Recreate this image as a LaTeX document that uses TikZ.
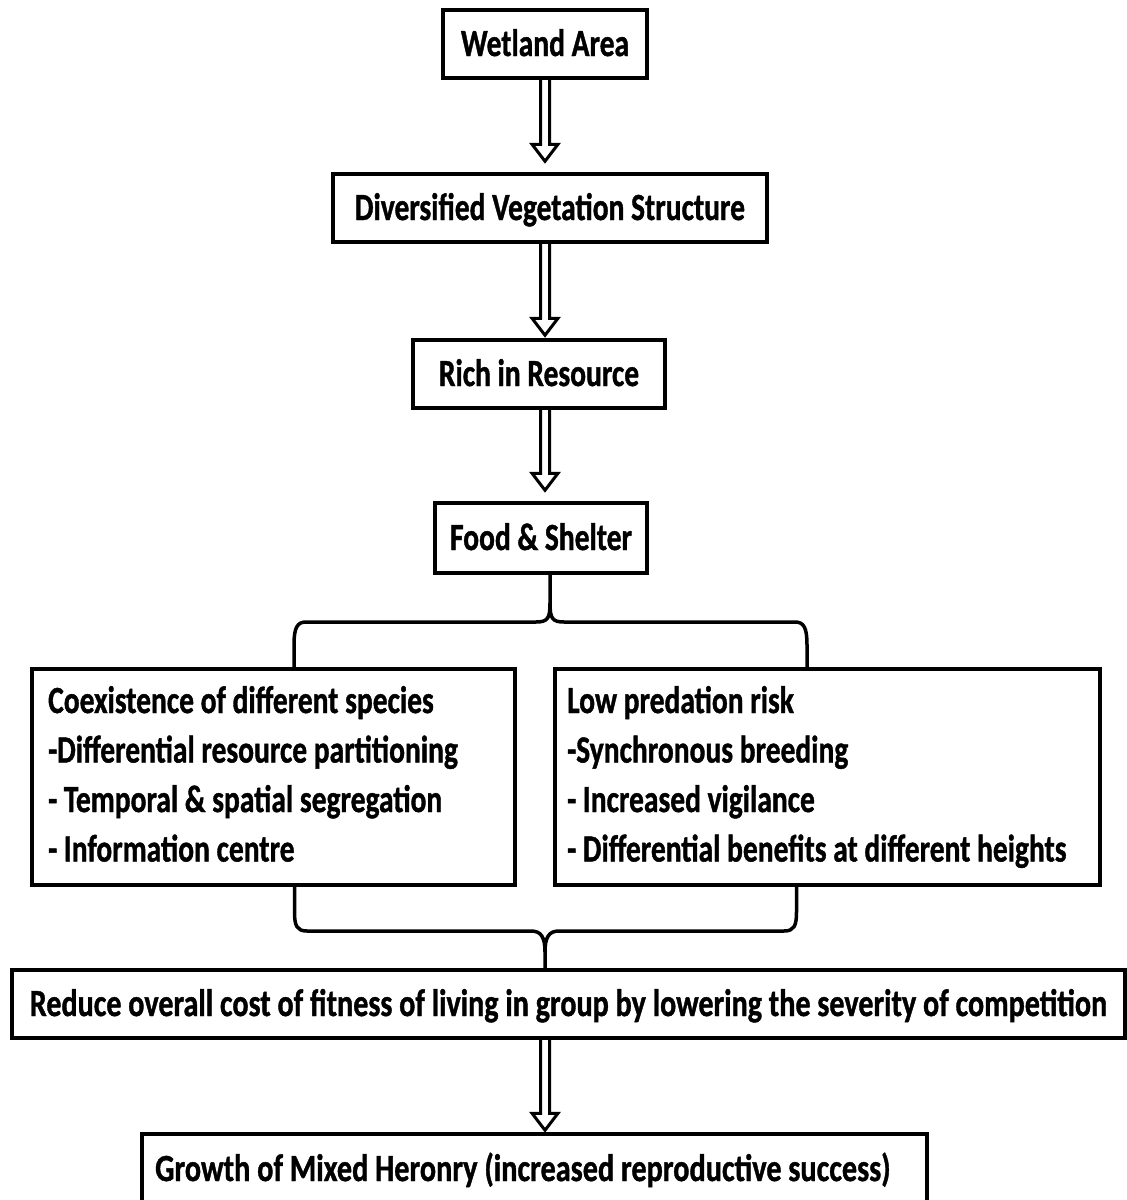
\documentclass[tikz,border=0pt]{standalone}
\usepackage{fontspec}
\setmainfont{Carlito}[BoldFeatures={FakeBold=1.2}]
\usetikzlibrary{calc}
\newcommand{\tx}[1]{\scalebox{1}[1.3]{#1}}
\newcommand{\txw}[2]{\scalebox{#1}[1.3]{#2}}
\begin{document}
\begin{tikzpicture}[x=1pt,y=-1pt,
  box/.style={draw, line width=3.5pt, rectangle, inner sep=0pt,
    font=\fontsize{29.5}{30}\selectfont\bfseries, text height=24pt, text depth=0pt},
  lbl/.style={font=\fontsize{29.5}{30}\selectfont\bfseries, inner sep=0pt, anchor=base west},
  brace/.style={line width=3.5pt, line join=round},
  blockarr/.style={line width=3pt, line join=miter,
    to path={let \p1=(\tikztostart), \p2=(\tikztotarget) in
      (\x1-4.5pt,\y1) -- (\x1-4.5pt,\y2+17pt) -- (\x1-13pt,\y2+17pt) -- (\x1,\y2)
      -- (\x1+13pt,\y2+17pt) -- (\x1+4.5pt,\y2+17pt) -- (\x1+4.5pt,\y1)}}
]
\useasboundingbox[fill=white] (0,0) rectangle (1127,1200);

% boxes
\node[box, minimum width=204pt, minimum height=68pt] (wa) at (545,44) {\tx{Wetland Area}};
\node[box, minimum width=434pt, minimum height=68pt] (dv) at (550,208) {\tx{Diversified Vegetation Structure}};
\node[box, minimum width=252pt, minimum height=68pt] (rr) at (539,374) {\tx{Rich in Resource}};
\node[box, minimum width=212pt, minimum height=70pt] (fs) at (541,538) {\tx{Food \& Shelter}};
\node[box, minimum width=483pt, minimum height=216pt] (lb) at (273.5,777) {};
\node[box, minimum width=545pt, minimum height=216pt] (rb) at (827.5,777) {};
\node[box, minimum width=1113pt, minimum height=68pt] (rc) at (568.5,1004) {\txw{1.02}{Reduce overall cost of fitness of living in group by lowering the severity of competition}};
\node[box, minimum width=785pt, minimum height=70pt] (gm) at (534.5,1169) {};

% texts in the two middle boxes and the last box
\node[lbl] (l1) at (48,713) {\tx{Coexistence of different species}};
\node[lbl] (l2) at (48,762.5) {\tx{-Differential resource partitioning}};
\node[lbl] (l3) at (48,812) {\tx{- Temporal \& spatial segregation}};
\node[lbl] (l4) at (48,861.5) {\tx{- Information centre}};
\node[lbl] (r1) at (567,713) {\tx{Low predation risk}};
\node[lbl] (r2) at (567,762.5) {\tx{-Synchronous breeding}};
\node[lbl] (r3) at (567,812) {\tx{- Increased vigilance}};
\node[lbl] (r4) at (567,861.5) {\tx{- Differential benefits at different heights}};
\node[lbl] (g1) at (155,1181) {\txw{1.025}{Growth of Mixed Heronry (increased reproductive success)}};

% coordinates for arrows
\coordinate (ax) at (545,0);
\draw[blockarr] (wa.south -| ax) to ($(dv.north -| ax)+(0,-11)$);
\draw[blockarr] (dv.south -| ax) to ($(rr.north -| ax)+(0,-3)$);
\draw[blockarr] (rr.south -| ax) to ($(fs.north -| ax)+(0,-11)$);
\draw[blockarr] (rc.south -| ax) to ($(gm.north -| ax)+(0,-2)$);

% top brace
\coordinate (tx) at (550,0);
\coordinate (tl) at (294,0);
\coordinate (tr) at (807,0);
\draw[brace] (fs.south -| tx) -- (550,603) .. controls (550,618) and (548,622) .. (536,622)
  -- (306,622) .. controls (297,622) and (294,628) .. (294,645) -- (lb.north -| tl);
\draw[brace] (550,603) .. controls (550,618) and (552,622) .. (564,622)
  -- (795,622) .. controls (804,622) and (807,628) .. (807,645) -- (rb.north -| tr);

% bottom brace
\coordinate (bl) at (294.5,0);
\coordinate (br) at (796.5,0);
\draw[brace] (lb.south -| bl) -- (294.5,912) .. controls (294.5,926) and (297,931) .. (307,931)
  -- (531,931) .. controls (541,931) and (545,937) .. (545,952) -- (rc.north -| ax);
\draw[brace] (rb.south -| br) -- (796.5,912) .. controls (796.5,926) and (794,931) .. (784,931)
  -- (559,931) .. controls (549,931) and (545,937) .. (545,952);
\end{tikzpicture}
\end{document}
